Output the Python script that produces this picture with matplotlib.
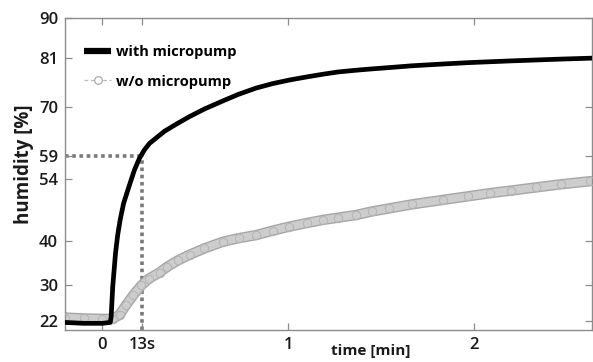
import matplotlib
matplotlib.use("Agg")
import matplotlib.pyplot as plt
import matplotlib.patheffects as pe
from matplotlib.lines import Line2D

# ---- data (time in seconds, humidity in %) ----
t_with = [-12, -6, 0, 2.6, 2.9, 3.4, 4.3, 5.0, 5.8, 6.9, 8.6, 10.4, 12.0, 13.6, 15.3,
          20.1, 24.4, 28.2, 33, 38.9, 44, 49.7, 55, 60.4, 66, 71.2, 76, 81.9, 87,
          92.7, 100, 110, 118, 125, 132, 140, 148, 157.5]
h_with = [21.7, 21.5, 21.5, 21.7, 23.0, 29.7, 37.2, 41.3, 44.7, 48.4, 52.1, 55.9,
          58.5, 60.4, 61.9, 64.6, 66.4, 67.9, 69.6, 71.4, 72.9, 74.3, 75.3, 76.1, 76.8,
          77.4, 77.9, 78.3, 78.6, 78.9, 79.3, 79.7, 80.0, 80.2, 80.4, 80.6, 80.8, 81.0]

t_wo = [-12, -6, 0, 3.4, 5.6, 7.7, 10, 12.6, 15, 18.5, 21, 24.4, 28.2, 33, 38.9,
        44, 49.7, 55, 60.4, 66, 71.2, 76, 81.9, 87, 92.7, 100, 110, 118, 125, 132,
        140, 148, 157.5]
h_wo = [22.8, 22.6, 22.5, 22.5, 23.4, 25.6, 27.8, 30.0, 31.5, 32.9, 34.2, 35.6,
        36.9, 38.3, 39.8, 40.6, 41.3, 42.3, 43.2, 44.0, 44.7, 45.2, 45.8, 46.6,
        47.3, 48.2, 49.2, 50.0, 50.7, 51.3, 52.0, 52.7, 53.4]

x_ticks = [0, 13, 60, 120]
x_ticklabels = ["0", "13s", "1", "2"]
y_ticks = [22, 30, 40, 54, 59, 70, 81, 90]
marker_t = 13
marker_h = 59

labels = ["with micropump", "w/o micropump"]

plt.rcParams['font.family'] = ['Open Sans', 'DejaVu Sans']

fig = plt.figure(figsize=(5.93, 3.62), dpi=100)
ax = fig.add_axes([0.1096, 0.0884, 0.8884, 0.8616])

# dotted guide lines
ax.plot([-12, marker_t], [marker_h, marker_h], ls=(0, (1, 1)), color='#7a7a7a', lw=2.6, zorder=1)
ax.plot([marker_t, marker_t], [20, marker_h], ls=(0, (1, 1)), color='#7a7a7a', lw=2.6, zorder=1)

# w/o micropump: dense band of circles
ax.plot(t_wo, h_wo, color='#cdcdcd', lw=5.5, solid_capstyle='round', zorder=2,
        path_effects=[pe.Stroke(linewidth=7.5, foreground='#a6a6a6'), pe.Normal()])
ax.plot(t_wo, h_wo, ls='none', marker='o', ms=6, mfc='none', mec='#b4b4b4', mew=0.7, zorder=3)

# with micropump
ax.plot(t_with, h_with, color='black', lw=3.4, zorder=4, solid_joinstyle='round')

# legend handles
hw = Line2D([], [], color='black', lw=4.5, solid_capstyle='butt')
hwo = Line2D([], [], color='#bbbbbb', lw=0.9, ls=(0, (3, 2)), marker='o', ms=5.5,
             mfc='white', mec='#aaaaaa', mew=0.9)
ax.legend([hw, hwo], labels, loc='upper left', bbox_to_anchor=(0.012, 0.955),
          frameon=False, handlelength=1.8, handletextpad=0.35, labelspacing=1.05,
          prop={'weight': 'bold', 'size': 10.5})

ax.set_xlim(-12, 158)
ax.set_ylim(20, 90)
ax.set_xticks(x_ticks)
ax.set_xticklabels(x_ticklabels)
ax.set_yticks(y_ticks)
ax.set_yticklabels([str(v) for v in y_ticks])

for s in ax.spines.values():
    s.set_color('#8c8c8c')
    s.set_linewidth(1.0)

ax.tick_params(direction='in', length=5, width=0.9, color='#8c8c8c',
               top=True, right=True, labelsize=12, pad=5)
for lab in ax.get_xticklabels() + ax.get_yticklabels():
    lab.set_fontweight('semibold')
    lab.set_color('#1a1a1a')

ax.set_ylabel('humidity [%]', fontsize=13.5, fontweight='bold', color='#1a1a1a')
ax.yaxis.set_label_coords(-0.058, 0.53)
ax.set_xlabel('time [min]', fontsize=11, fontweight='bold', color='#1a1a1a')
ax.xaxis.set_label_coords(0.58, -0.045)

fig.savefig('out.png', dpi=100)
